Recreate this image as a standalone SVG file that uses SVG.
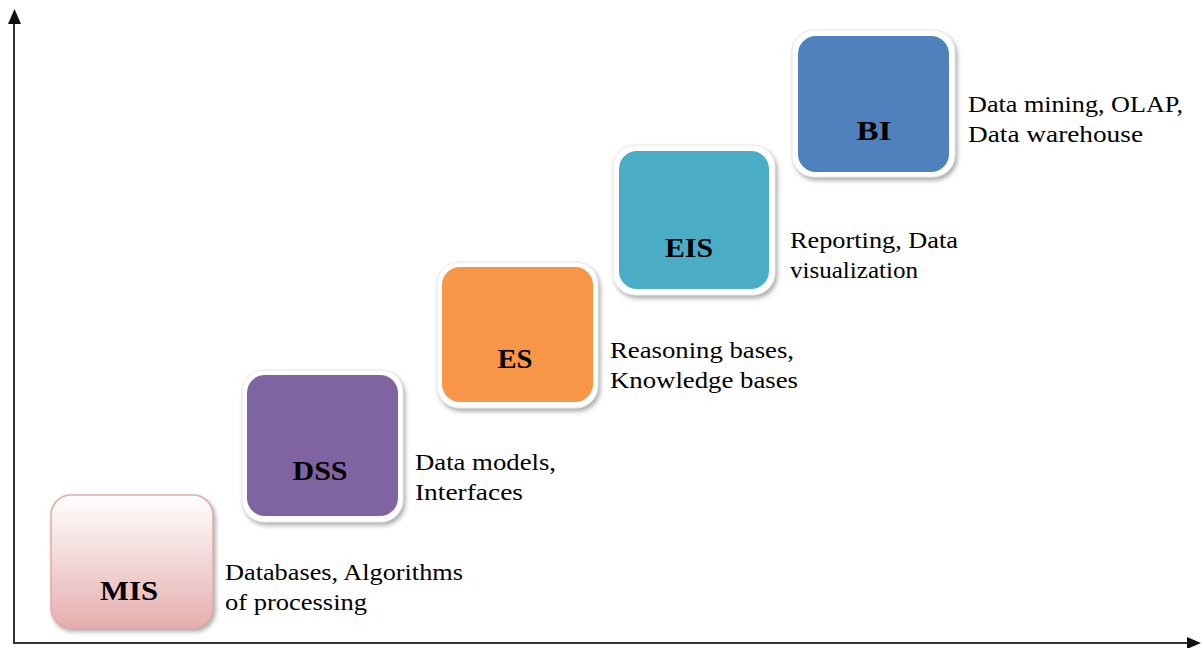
<svg xmlns="http://www.w3.org/2000/svg" width="1201" height="648" viewBox="0 0 1201 648">
<defs>
<style>
.lbl{font-size:24px;fill:#000}
.node{font-size:27px;font-weight:bold;fill:#000;text-anchor:middle}
.frame{fill:#ffffff;stroke:#e6e6e6;stroke-width:1}
.axis{stroke:#333;stroke-width:2;fill:none}
</style>
<linearGradient id="misg" x1="0" y1="0" x2="0" y2="1">
<stop offset="0" stop-color="#ffffff"/>
<stop offset="1" stop-color="#e6aeae"/>
</linearGradient>
<filter id="sh" x="-10%" y="-10%" width="125%" height="125%">
<feDropShadow dx="2" dy="3" stdDeviation="2" flood-color="#777" flood-opacity="0.6"/>
</filter>
</defs>
<g id="axes">
<line class="axis" x1="14" y1="643" x2="14" y2="20"/>
<line class="axis" x1="13" y1="643" x2="1190" y2="643"/>
<polygon points="14.5,9 8,24 21,24" fill="#111"/>
<polygon points="1201,643 1187,637 1187,649" fill="#111"/>
</g>
<g font-family="Liberation Serif, Times New Roman, Times, serif">
<g id="MIS">
<rect x="51" y="495" width="162" height="133" rx="20" fill="url(#misg)" stroke="#e3a9a9" stroke-width="1.5" filter="url(#sh)"/>
<text class="node" x="129" y="600" textLength="58" lengthAdjust="spacingAndGlyphs">MIS</text>
<text class="lbl" x="225" y="580" textLength="238" lengthAdjust="spacingAndGlyphs">Databases, Algorithms</text>
<text class="lbl" x="225" y="610" textLength="142" lengthAdjust="spacingAndGlyphs">of processing</text>
</g>
<g id="DSS">
<rect class="frame" x="242" y="370" width="161" height="152" rx="22" filter="url(#sh)"/>
<rect x="247" y="375" width="151" height="141" rx="18" fill="#8064a2"/>
<text class="node" x="320" y="480" textLength="55" lengthAdjust="spacingAndGlyphs">DSS</text>
<text class="lbl" x="415" y="470" textLength="141" lengthAdjust="spacingAndGlyphs">Data models,</text>
<text class="lbl" x="415" y="500" textLength="108" lengthAdjust="spacingAndGlyphs">Interfaces</text>
</g>
<g id="ES">
<rect class="frame" x="437" y="262" width="161" height="146" rx="22" filter="url(#sh)"/>
<rect x="442" y="267" width="151" height="135" rx="18" fill="#f79646"/>
<text class="node" x="515" y="368" textLength="35" lengthAdjust="spacingAndGlyphs">ES</text>
<text class="lbl" x="610" y="358" textLength="184" lengthAdjust="spacingAndGlyphs">Reasoning bases,</text>
<text class="lbl" x="610" y="388" textLength="188" lengthAdjust="spacingAndGlyphs">Knowledge bases</text>
</g>
<g id="EIS">
<rect class="frame" x="613" y="145" width="162" height="150" rx="22" filter="url(#sh)"/>
<rect x="619" y="151" width="150" height="138" rx="18" fill="#4bacc6"/>
<text class="node" x="689" y="257" textLength="48" lengthAdjust="spacingAndGlyphs">EIS</text>
<text class="lbl" x="790" y="248" textLength="168" lengthAdjust="spacingAndGlyphs">Reporting, Data</text>
<text class="lbl" x="790" y="278" textLength="128" lengthAdjust="spacingAndGlyphs">visualization</text>
</g>
<g id="BI">
<rect class="frame" x="792" y="30" width="163" height="147" rx="22" filter="url(#sh)"/>
<rect x="798" y="36" width="151" height="136" rx="18" fill="#4f81bd"/>
<text class="node" x="874" y="140" textLength="35" lengthAdjust="spacingAndGlyphs">BI</text>
<text class="lbl" x="968" y="112" textLength="215" lengthAdjust="spacingAndGlyphs">Data mining, OLAP,</text>
<text class="lbl" x="968" y="142" textLength="175" lengthAdjust="spacingAndGlyphs">Data warehouse</text>
</g>
</g>
</svg>
